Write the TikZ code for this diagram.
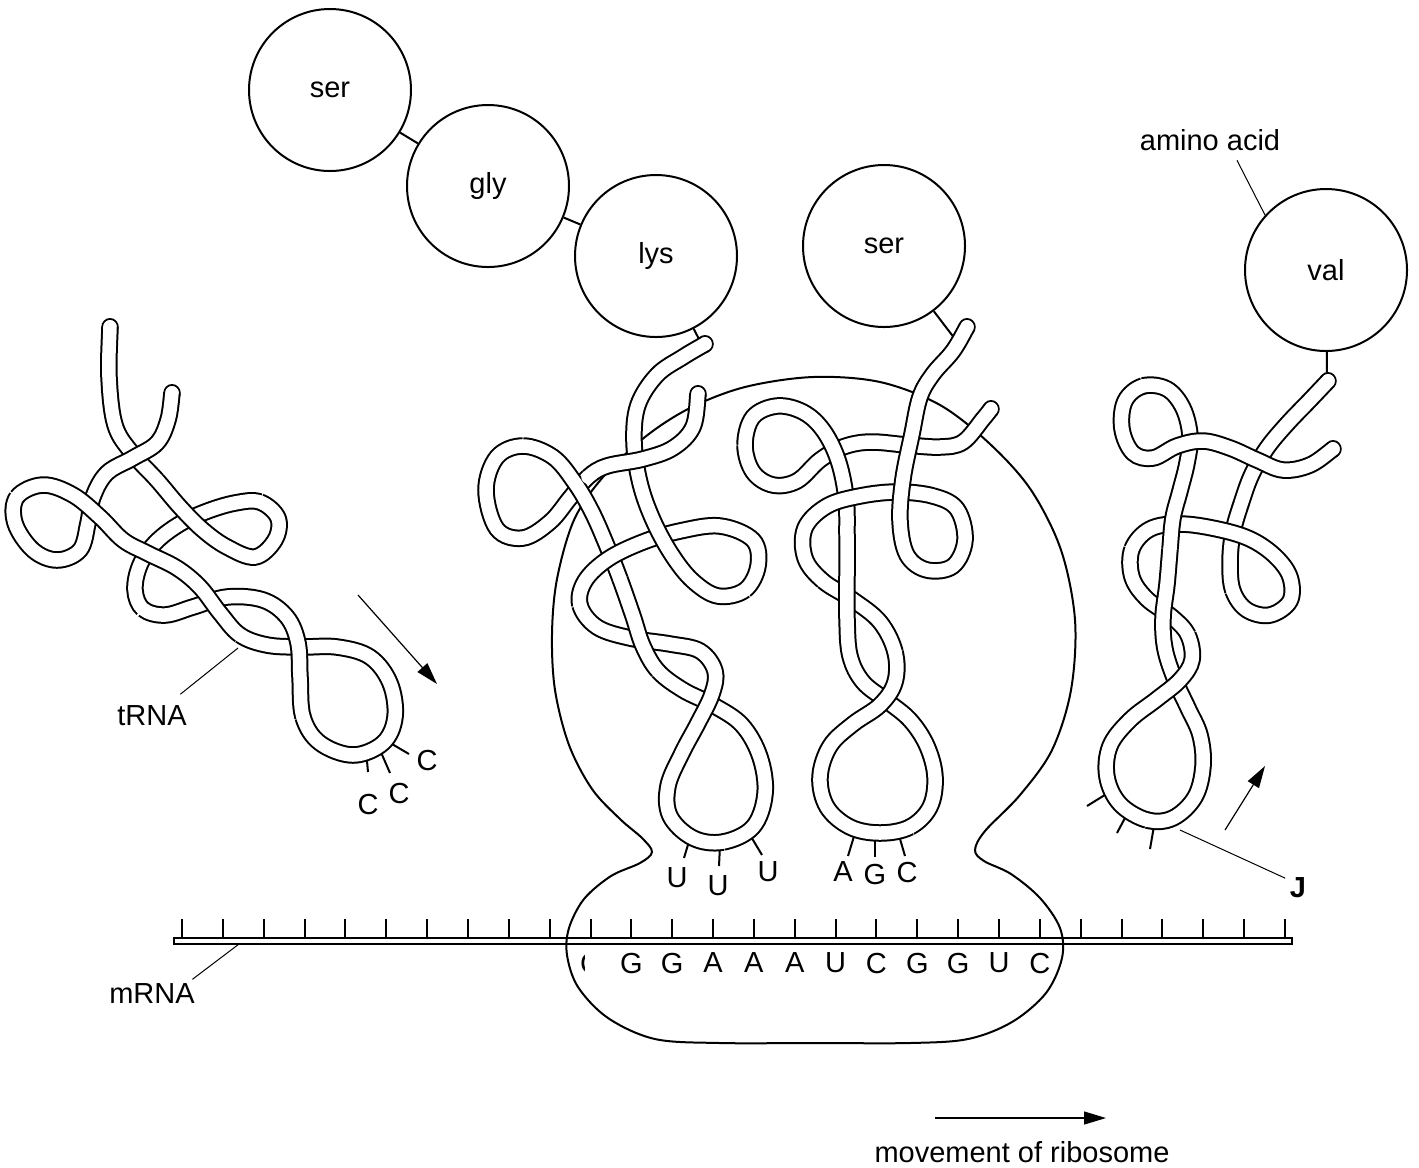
\documentclass[tikz,border=0pt]{standalone}
\usepackage{fontspec}
\setmainfont{Liberation Sans}
\usetikzlibrary{arrows.meta}

\tikzset{
  tube/.style={line width=1.75mm, postaction={draw=white, line width=1.35mm, line cap=round}},
  outline/.style={line width=0.2mm},
  pointer/.style={line width=0.1mm},
  acid/.style={circle, draw, line width=0.2mm, minimum size=16.2mm, inner sep=0pt},
  base/.style={inner sep=0pt},
  mover/.style={line width=0.12mm, -{Triangle[length=2.2mm,width=1.3mm]}},
}

% centre lines of the four tRNA strands
\def\tAx{{110,109,115,132,157,180,203,227,255,275,278,260,235,205,178,155,140,135,143,165,193,227,263,287,298,300,303,320,353,383,395,390,370,337,300,267,240,220,200,177,147,123,100,73,43,17,15,33,57,80,88,93,107,133,157,168,172}}
\def\tAy{{327,377,425,453,480,507,530,547,557,540,518,502,503,512,525,543,565,590,609,615,607,597,600,617,643,677,717,743,755,743,717,683,657,647,647,645,635,613,587,568,553,540,517,495,485,497,523,550,560,550,523,497,473,458,443,420,393}}
\def\tBx{{698,693,673,643,607,588,570,550,523,497,486,497,523,553,575,592,607,620,633,643,658,683,713,742,760,765,753,723,693,670,668,682,698,712,715,700,670,630,597,580,585,608,643,680,720,753,758,745,718,693,672,653,640,634,638,657,683,705}}
\def\tBy{{394,427,448,459,466,477,498,522,538,529,490,457,446,457,483,512,546,579,616,646,671,690,705,725,757,794,827,842,838,816,786,753,723,694,671,651,644,638,627,605,581,559,542,531,526,540,566,590,596,581,555,520,483,442,405,375,357,344}}
\def\tCx{{967,953,933,920,912,903,900,907,927,953,965,957,933,897,860,827,805,805,823,853,880,895,895,880,853,830,820,827,850,880,910,930,935,927,910,887,863,850,847,847,847,846,838,823,803,777,753,745,753,773,797,820,843,870,907,940,963,983,991}}
\def\tCy{{327,351,374,397,434,479,521,555,570,566,540,509,496,492,496,506,528,558,581,600,622,652,682,705,724,746,777,807,827,833,827,807,777,746,720,701,682,656,619,573,536,498,460,430,412,406,417,445,472,485,481,460,447,442,445,447,442,419,409}}
\def\tDx{{1328,1310,1287,1267,1252,1242,1233,1230,1233,1247,1270,1290,1290,1275,1250,1217,1180,1150,1132,1132,1147,1172,1188,1192,1180,1157,1130,1110,1107,1120,1147,1173,1195,1203,1200,1188,1175,1165,1163,1167,1170,1173,1180,1187,1190,1183,1167,1143,1125,1122,1133,1153,1177,1203,1230,1257,1283,1310,1333}}
\def\tDy{{381,400,424,448,474,501,532,563,591,610,615,601,577,556,539,529,524,529,549,577,599,617,635,660,680,699,720,746,777,804,820,818,797,766,735,708,680,649,618,584,549,518,491,463,436,408,389,386,401,429,453,458,446,441,448,460,470,465,449}}

\newcommand\rnacap[3]{\draw[tube,line cap=round] ({#1[#3]},{#2[#3]}) -- ++(0.01,0);}
\newcommand\rnapiece[5]{%
  \pgfmathtruncatemacro\rnastop{#5-1}%
  \draw[tube] ({#1[#4]},{#2[#4]})
    \foreach \i [evaluate={\i as \im using int(max(\i-1,0))},
                 evaluate={\i as \ip using int(\i+1)},
                 evaluate={\i as \iq using int(min(\i+2,#3))}] in {#4,...,\rnastop}
    { .. controls ({#1[\i]+(#1[\ip]-#1[\im])/6},{#2[\i]+(#2[\ip]-#2[\im])/6})
        and ({#1[\ip]-(#1[\iq]-#1[\i])/6},{#2[\ip]-(#2[\iq]-#2[\i])/6}) .. ({#1[\ip]},{#2[\ip]}) };
}
\newcommand\trna[4]{%
  \rnacap{#1}{#2}{0}\rnacap{#1}{#2}{#3}
  \foreach \a/\b in {#4} {\rnapiece{#1}{#2}{#3}{\a}{\b}}
}

\begin{document}
\begin{tikzpicture}[x=0.1mm, y=-0.1mm, font=\fontsize{8.25}{10}\selectfont]
\useasboundingbox (0,0) rectangle (1419,1167);

% ribosome
\draw[outline] plot[smooth cycle, tension=0.55] coordinates {(652,852) (640,863) (611,876) (584,899) (569,928) (567,955) (578,987) (608,1018) (655,1039) (720,1043) (815,1043) (910,1043) (968,1039) (1012,1022) (1046,993) (1062,958) (1060,928) (1040,898) (1011,874) (984,861) (975,850) (985,831) (1020,795) (1052,750) (1071,690) (1075,620) (1061,550) (1031,490) (990,444) (940,405) (880,382) (813,377) (745,387) (690,408) (645,437) (603,477) (574,520) (557,579) (552,634) (555,690) (569,745) (592,789) (620,819) (642,838)};

% mRNA
\draw[outline] (174,937.5) rectangle (1292,944);
\foreach \k in {0,...,27}
  \draw[outline] ({182+40.85*\k},919) -- ({182+40.85*\k},937.5);
\foreach \b [count=\k from 11] in {G,G,A,A,A,U,C,G,G,U,C}
  \node[base] (codon-\k) at ({182+40.85*\k},963) {\b};
\begin{scope}
  \clip (574,945) rectangle (584.5,985);
  \node[base] (codon-10) at ({182+40.85*10},963) {C};
\end{scope}

% amino acids
\node[acid] (ser1) at (330,90) {ser};
\node[acid] (gly) at (488,186) {gly};
\node[acid] (lys) at (656,256) {lys};
\node[acid] (ser2) at (884,246) {ser};
\node[acid] (val) at (1326,270) {val};
\coordinate (lysend) at (701,343);
\coordinate (serend) at (955,339);
\coordinate (valend) at (1327,380);
\draw[outline] (ser1) -- (gly);
\draw[outline] (gly) -- (lys);
\draw[outline] (lys) -- (lysend);
\draw[outline] (ser2) -- (serend);
\draw[outline] (val) -- (valend);

% labels
\node[base] (aalabel) at (1210,140) {amino acid};
\draw[pointer] ([shift={(27,9)}]aalabel.south) -- (val.138);
\node[base] (trnalabel) at (152,716) {tRNA};
\coordinate (trnatip) at (238,648);
\draw[pointer] ([shift={(-7,-11)}]trnalabel.north east) -- (trnatip);
\node[base] (mrnalabel) at (152,994) {mRNA};
\coordinate (mrnatip) at (239,944);
\draw[pointer] ([shift={(-3,-4)}]mrnalabel.north east) -- (mrnatip);
\node[base] (jlabel) at (1298,888) {\textbf{J}};
\coordinate (jtip) at (1180,830);
\draw[pointer] ([shift={(-4,1)}]jlabel.north west) -- (jtip);

% arrows
\coordinate (inA) at (358,595);
\coordinate (inB) at (437,684);
\draw[mover] (inA) -- (inB);
\coordinate (outA) at (1225,830);
\coordinate (outB) at (1265,766);
\draw[mover] (outA) -- (outB);
\coordinate (moveA) at (935,1118);
\coordinate (moveB) at (1106,1118);
\draw[mover] (moveA) -- (moveB);
\node[base] (movelabel) at (1022,1152) {movement of ribosome};

% anticodons
\draw[outline] (366,750) -- (368,772);
\draw[outline] (380,750) -- (390,773);
\draw[outline] (392,744) -- (409,754);
\node[base] (ccaA) at (427,760) {C};
\node[base] (ccaB) at (399,793) {C};
\node[base] (ccaC) at (368,804) {C};
\draw[outline] (690,838) -- (684,858);
\draw[outline] (720,845) -- (719,866);
\draw[outline] (750,835) -- (762,855);
\node[base] (uuuA) at (677,878) {U};
\node[base] (uuuB) at (718,886) {U};
\node[base] (uuuC) at (768,872) {U};
\draw[outline] (855,833) -- (848,856);
\draw[outline] (875,835) -- (875,857);
\draw[outline] (898,832) -- (905,856);
\node[base] (agcA) at (843,872) {A};
\node[base] (agcG) at (875,874) {G};
\node[base] (agcC) at (907,872) {C};
\draw[outline] (1108,793) -- (1087,806);
\draw[outline] (1126,816) -- (1117,833);
\draw[outline] (1154,826) -- (1150,849);

% tRNA strands, pieces in stacking order
\trna{\tAx}{\tAy}{56}{0/4,11/18,4/11,26/36,18/26,45/56,36/45}
\trna{\tBx}{\tBy}{57}{5/12,12/17,39/47,47/57,0/5,20/27,27/39,17/20}
\trna{\tCx}{\tCy}{58}{47/58,40/47,12/18,5/12,0/5,18/21,30/40,21/30}
\trna{\tDx}{\tDy}{58}{0/8,8/18,40/47,47/58,18/22,30/40,22/30}
\end{tikzpicture}
\end{document}
